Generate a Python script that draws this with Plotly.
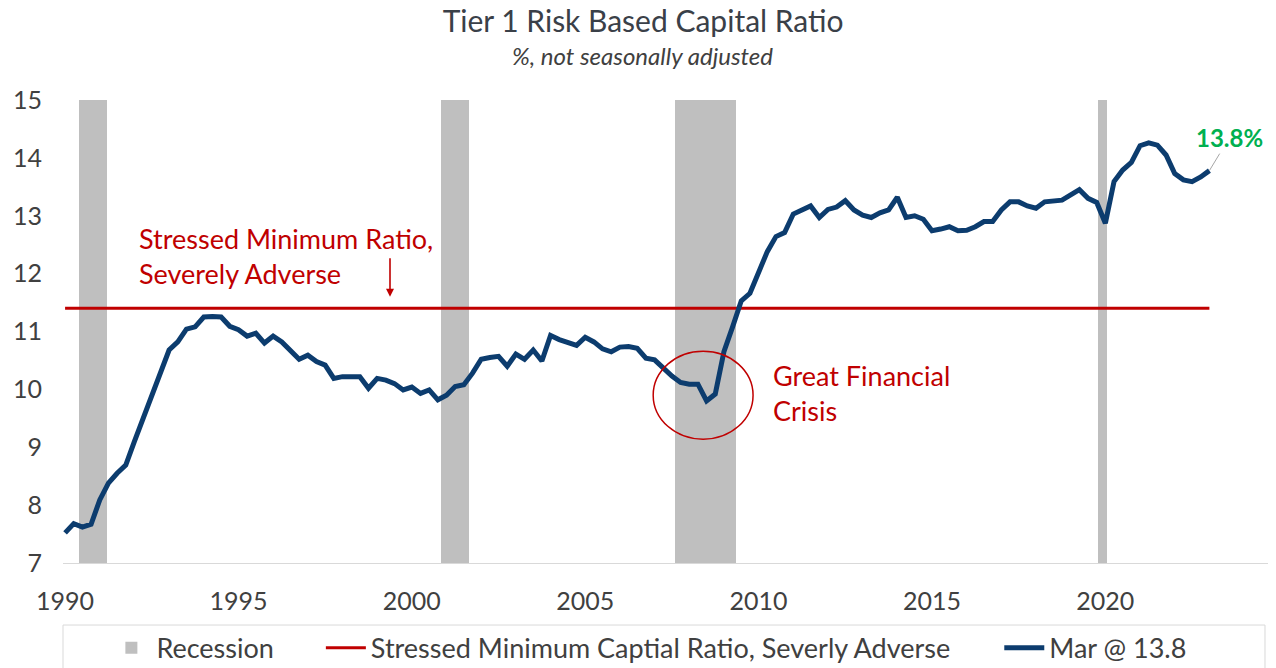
import plotly.graph_objects as go

# ---------------- data ----------------
start_year = 1990
# Tier 1 risk based capital ratio, quarterly from 1990 Q1 to 2023 Q1 (%)
tier1_ratio = [
    7.52, 7.68, 7.62, 7.67, 8.09, 8.38, 8.55, 8.69, 9.10, 9.50,
    9.87, 10.30, 10.68, 10.82, 11.04, 11.08, 11.25, 11.26, 11.25, 11.09,
    11.03, 10.92, 10.97, 10.80, 10.92, 10.82, 10.68, 10.52, 10.59, 10.48,
    10.42, 10.19, 10.22, 10.22, 10.22, 10.02, 10.19, 10.16, 10.10, 9.99,
    10.04, 9.93, 9.99, 9.82, 9.90, 10.05, 10.08, 10.28, 10.52, 10.55,
    10.57, 10.40, 10.61, 10.52, 10.68, 10.49, 10.93, 10.86, 10.81, 10.76,
    10.90, 10.82, 10.70, 10.65, 10.73, 10.74, 10.71, 10.54, 10.51, 10.37,
    10.23, 10.12, 10.09, 10.09, 9.80, 9.92, 10.65, 11.08, 11.53, 11.66,
    12.03, 12.38, 12.64, 12.71, 13.03, 13.09, 13.17, 12.97, 13.11, 13.15,
    13.26, 13.10, 13.01, 12.97, 13.05, 13.10, 13.32, 12.97, 13.00, 12.94,
    12.74, 12.77, 12.81, 12.74, 12.75, 12.81, 12.90, 12.90, 13.10, 13.24,
    13.24, 13.17, 13.13, 13.24, 13.26, 13.27, 13.36, 13.45, 13.30, 13.23,
    12.87, 13.59, 13.79, 13.92, 14.21, 14.26, 14.22, 14.05, 13.73, 13.62,
    13.59, 13.67, 13.78,
]
stressed_minimum = 11.4

# recession periods (decimal years, as drawn)
recession_start = [1990.4, 2000.85, 2007.6, 2019.8]
recession_end = [1991.2, 2001.65, 2009.35, 2020.05]

tick_years = [1990, 1995, 2000, 2005, 2010, 2015, 2020]
tick_labels = ["1990", "1995", "2000", "2005", "2010", "2015", "2020"]
y_ticks = [7, 8, 9, 10, 11, 12, 13, 14, 15]

latest_label = "13.8%"

# ---------------- derived ----------------
quarters = [start_year + 0.25 * i for i in range(len(tier1_ratio))]
rec_mid = [(a + b) / 2 for a, b in zip(recession_start, recession_end)]
rec_width = [b - a for a, b in zip(recession_start, recession_end)]

FONT = "Lato, 'Open Sans', sans-serif"
TXT = "#404040"
RED = "#C00000"
NAVY = "#0C3C6E"
GREY = "#BFBFBF"
GREEN = "#00B050"

Y0, Y1 = 7, 15

fig = go.Figure()

fig.add_trace(go.Bar(
    x=rec_mid, y=[Y1 - Y0] * len(rec_mid), base=[Y0] * len(rec_mid),
    width=rec_width, marker=dict(color=GREY, line=dict(width=0)),
    name="Recession", hoverinfo="skip", legend="legend",
))

fig.add_trace(go.Scatter(
    x=[quarters[0], quarters[-1]], y=[stressed_minimum, stressed_minimum],
    mode="lines", line=dict(color=RED, width=3),
    name="Stressed Minimum Captial Ratio, Severly Adverse", legend="legend2",
))

fig.add_trace(go.Scatter(
    x=quarters, y=tier1_ratio, mode="lines",
    line=dict(color=NAVY, width=5),
    name="Mar @ 13.8", legend="legend3",
))

# Great Financial Crisis circle
fig.add_shape(type="circle", xref="x", yref="y",
              x0=2006.96, x1=2009.84, y0=9.14, y1=10.66,
              line=dict(color=RED, width=1.5))

# legend frame
fig.add_shape(type="rect", xref="paper", yref="paper",
              x0=0, x1=0.9975, y0=-0.134, y1=-0.30,
              line=dict(color="#D9D9D9", width=1), fillcolor="rgba(0,0,0,0)",
              layer="below")

annotations = [
    dict(text="<i>%, not seasonally adjusted</i>", xref="paper", yref="paper",
         x=0.481, y=1.097, xanchor="center", yanchor="middle", showarrow=False,
         font=dict(size=24, color=TXT, family=FONT)),
    dict(text="Stressed Minimum Ratio,<br>Severely Adverse", xref="x", yref="y",
         x=1992.08, y=12.30, xanchor="left", yanchor="middle", align="left",
         showarrow=False, font=dict(size=27, color=RED, family=FONT)),
    dict(text="", xref="x", yref="y", x=1999.37, y=11.60, ax=0, ay=-40,
         showarrow=True, arrowhead=2, arrowsize=1, arrowwidth=1.6, arrowcolor=RED),
    dict(text="Great Financial<br>Crisis", xref="x", yref="y",
         x=2010.36, y=9.94, xanchor="left", yanchor="middle", align="left",
         showarrow=False, font=dict(size=27, color=RED, family=FONT)),
    dict(text="<b>" + latest_label + "</b>", xref="x", yref="y",
         x=quarters[-1], y=tier1_ratio[-1], ax=20, ay=-33,
         showarrow=True, arrowhead=0, arrowwidth=1, arrowcolor="#A6A6A6",
         standoff=0, font=dict(size=24, color=GREEN, family=FONT)),
]

legend_common = dict(orientation="h", y=-0.184, xanchor="left", yanchor="middle",
                     font=dict(size=27, color=TXT, family=FONT),
                     bgcolor="rgba(0,0,0,0)", itemwidth=40)

fig.update_layout(
    width=1276, height=668,
    margin=dict(l=63, r=8, t=100, b=105, autoexpand=False),
    paper_bgcolor="white", plot_bgcolor="white",
    font=dict(family=FONT, color=TXT),
    title=dict(text="Tier 1 Risk Based Capital Ratio", xref="container", yref="container",
               x=0.504, y=0.968, xanchor="center", yanchor="middle",
               font=dict(size=30, color="#3A4048", family=FONT)),
    annotations=annotations,
    showlegend=True,
    legend=dict(x=0.036, **legend_common),
    legend2=dict(x=0.214, **legend_common),
    legend3=dict(x=0.777, **legend_common),
    bargap=0,
)

fig.update_xaxes(
    range=[1989.94, 2024.69], tickvals=tick_years, ticktext=tick_labels,
    showgrid=False, zeroline=False, showline=True, linecolor="#D9D9D9", linewidth=1,
    ticks="", ticklabelstandoff=16, tickfont=dict(size=25, color=TXT, family=FONT),
)
fig.update_yaxes(
    range=[Y0, Y1], tickvals=y_ticks, showgrid=False, zeroline=False, showline=False,
    ticks="", ticklabelstandoff=20, tickfont=dict(size=25, color=TXT, family=FONT),
)

fig.write_html("out.html", config={"displayModeBar": False},
               post_script="document.body.style.margin='0';")
